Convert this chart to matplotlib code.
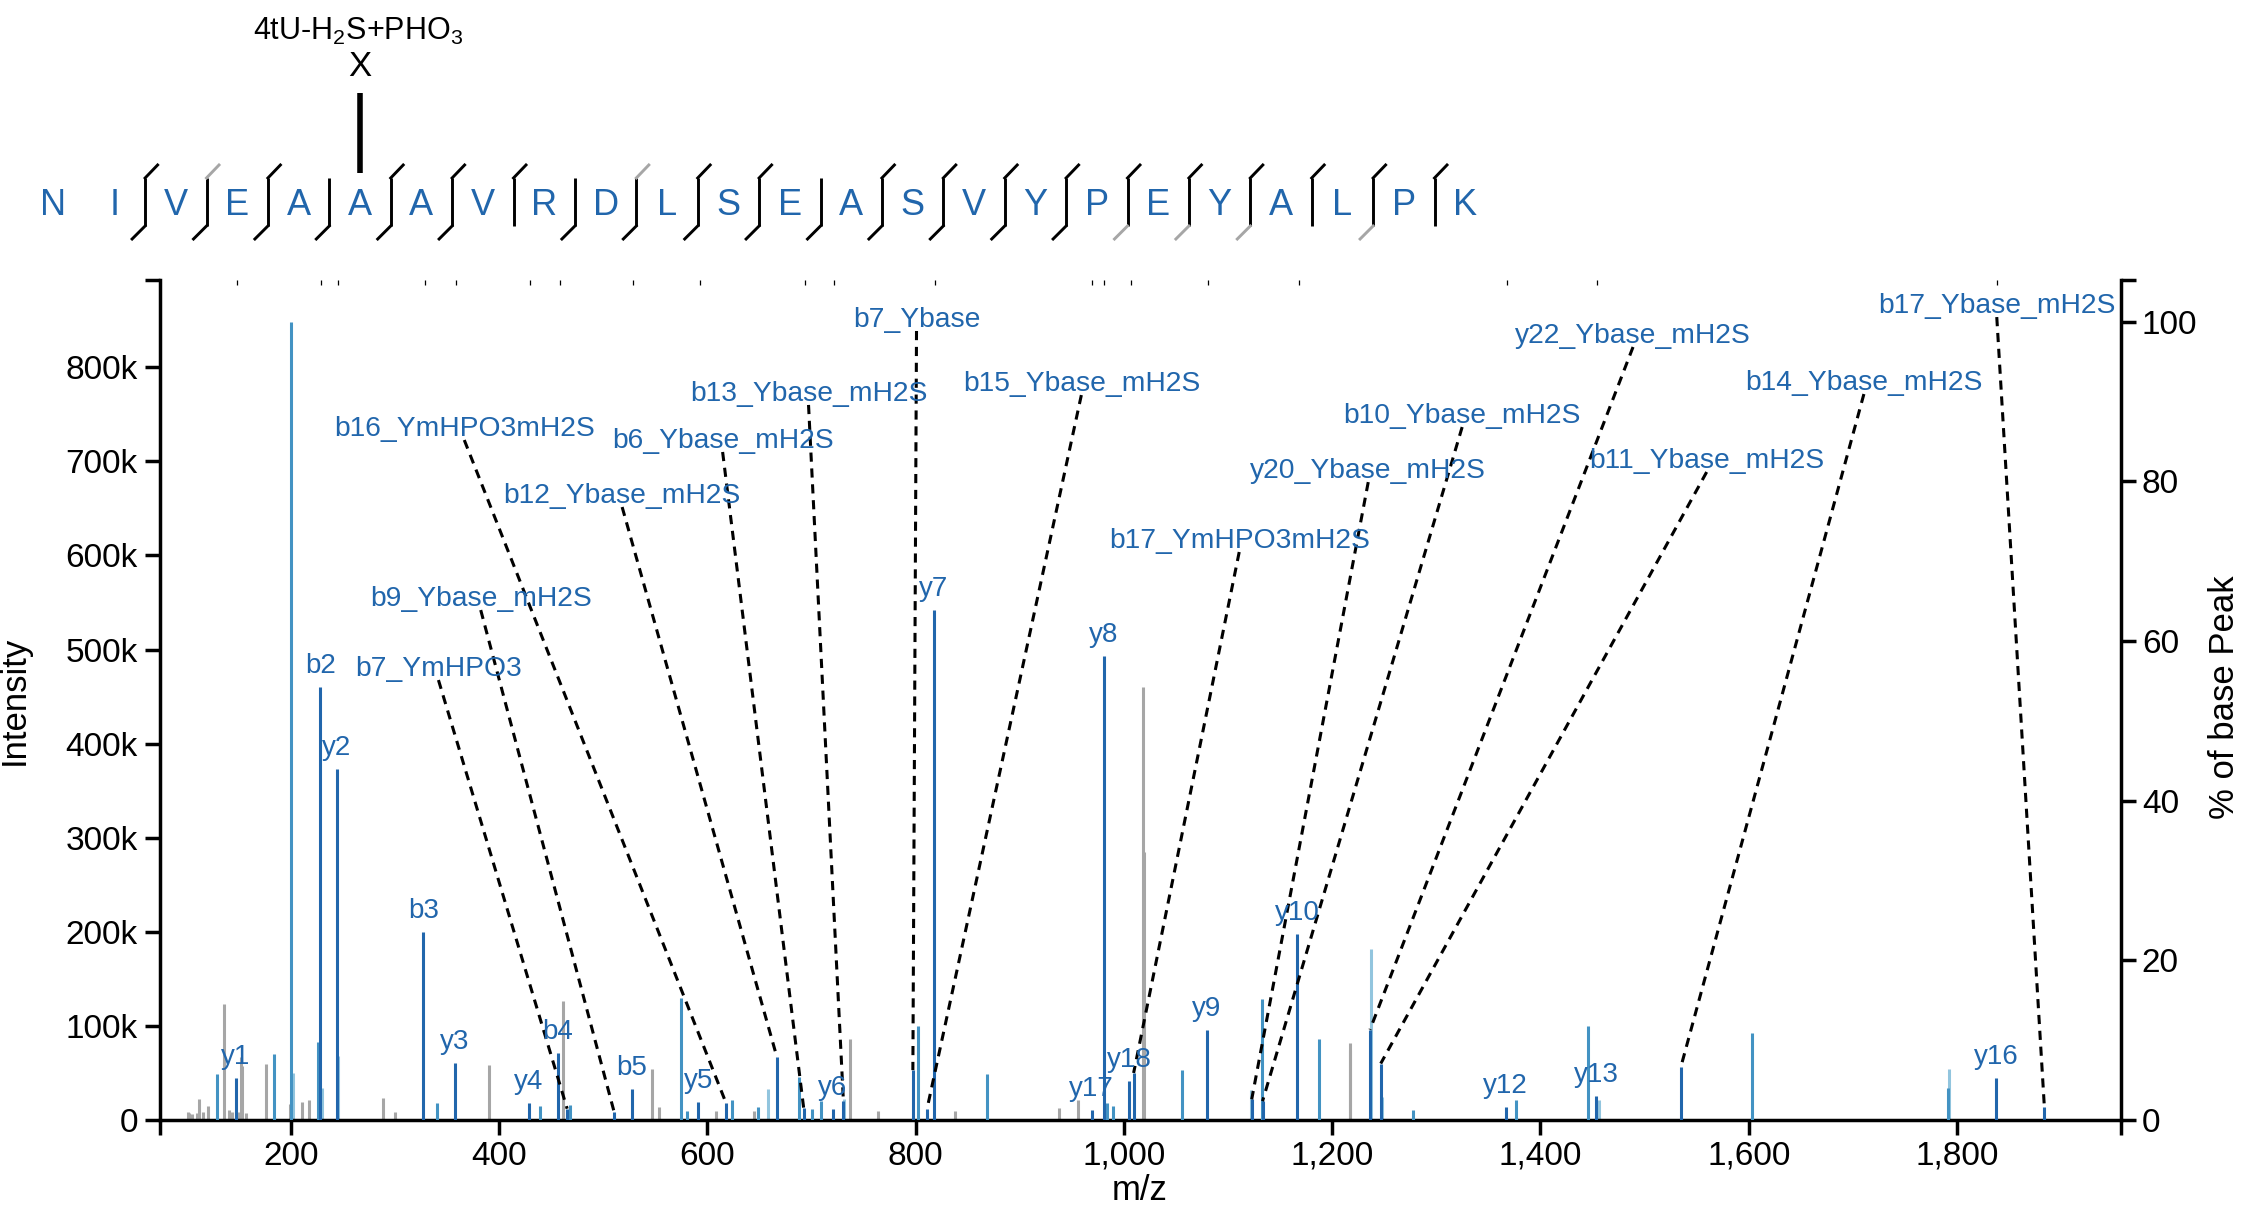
import matplotlib.pyplot as plt
from matplotlib.ticker import FuncFormatter

plt.rcParams['font.family'] = ['Liberation Sans', 'DejaVu Sans']
plt.rcParams['mathtext.fontset'] = 'custom'
plt.rcParams['mathtext.rm'] = 'Liberation Sans'
plt.rcParams['mathtext.it'] = 'Liberation Sans:italic'

# ---- peptide header ----
sequence = "NIVEAAAVRDLSEASVYPEYALPK"
# fragment marks between residues: 0 none, 1 matched, 2 weak (grey)
y_marks = [0, 1, 2, 1, 0, 1, 1, 1, 0, 2, 1, 1, 0, 1, 1, 1, 1, 1, 1, 1, 1, 1, 1]
b_marks = [0, 1, 1, 1, 1, 1, 1, 0, 1, 1, 1, 1, 1, 1, 1, 1, 1, 2, 2, 2, 0, 2, 0]
mod_site = 5
mod_label = "4tU-H$_2$S+PHO$_3$"

# ---- spectrum peaks (m/z, intensity) ----
gray_mz = [100.9, 102.4, 104.7, 109.5, 112.0, 115.8, 120.0, 136.0, 140.8, 143.7,
           150.0, 152.0, 153.5, 156.8, 176.3, 198.8, 210.8, 217.3, 288.3, 300.1,
           390.3, 461.3, 546.4, 553.5, 608.7, 644.3, 737.3, 763.6, 837.7, 937.8,
           956.1, 1018.3, 1019.5, 1216.8, 1217.5]
gray_int = [8500, 7400, 6700, 7400, 22000, 8000, 15000, 123000, 11000, 8000,
            8000, 67000, 57000, 7400, 60000, 17000, 19000, 21000, 23000, 8500,
            58500, 126000, 54600, 13800, 9200, 9600, 86000, 10000, 10000, 12800,
            21000, 460000, 285000, 74000, 82000]

light_mz = [201.6, 229.5, 245.4, 658.4, 731.5, 1121.9, 1237.0, 1247.6, 1455.8, 1792.3]
light_int = [50000, 34000, 68000, 32600, 22000, 31900, 182000, 24000, 21000, 54600]

mid_mz = [129.3, 183.4, 200.0, 225.9, 340.4, 439.3, 468.4, 574.3, 580.8, 624.0,
          648.1, 688.2, 700.4, 709.4, 801.8, 868.5, 983.4, 989.8, 1055.5, 1132.5,
          1187.5, 1277.8, 1376.1, 1445.9, 1603.2, 1791.3]
mid_int = [49000, 70000, 848600, 83000, 18400, 14500, 16000, 130000, 9600, 21000,
           13500, 45700, 11700, 20000, 99600, 49000, 18000, 15000, 52800, 129000,
           85700, 11000, 21000, 100000, 92000, 33700]

ion_names = ["y1", "b2", "y2", "b3", "y3", "y4", "b4", "b5", "y5", "y6", "y7",
             "y17", "y8", "y18", "y9", "y10", "y12", "y13", "y16"]
ion_mz = [147.1, 228.1, 244.2, 327.2, 357.3, 428.3, 456.2, 527.3, 591.4, 720.4,
          817.4, 969.0, 980.5, 1005.0, 1079.6, 1166.6, 1366.7, 1453.7, 1837.9]
ion_int = [45000, 460000, 373000, 200000, 61000, 18400, 71000, 33000, 18800, 11700,
           542000, 11000, 493000, 41500, 95700, 198000, 14000, 25500, 44600]

ann_names = ["b7_YmHPO3", "b9_Ybase_mH2S", "b16_YmHPO3mH2S", "b12_Ybase_mH2S",
             "b6_Ybase_mH2S", "b13_Ybase_mH2S", "b7_Ybase", "b15_Ybase_mH2S",
             "b17_YmHPO3mH2S", "y20_Ybase_mH2S", "b10_Ybase_mH2S", "y22_Ybase_mH2S",
             "b11_Ybase_mH2S", "b14_Ybase_mH2S", "b17_Ybase_mH2S"]
ann_peak_mz = [465.3, 510.3, 618.0, 666.7, 692.4, 730.6, 797.3, 810.8,
               1009.3, 1122.7, 1133.1, 1236.3, 1246.6, 1534.9, 1883.9]
ann_peak_int = [12000, 9000, 17700, 67000, 13000, 20000, 53000, 11300,
                50000, 22000, 20000, 96000, 60000, 56700, 14000]
ann_text_mz = [341.7, 382.3, 366.5, 518.1, 614.6, 697.1, 800.8, 959.1,
               1110.7, 1234.6, 1324.8, 1488.9, 1559.6, 1710.6, 1838.2]
ann_text_int = [467600, 542000, 722700, 651500, 710000, 760000, 838600, 770500,
                603700, 678000, 736500, 821600, 688700, 771600, 853400]

# small marks along the top: positions of matched backbone ions
top_marks = [148.6, 228.9, 245.6, 329.0, 358.8, 430.0, 458.0, 529.0, 592.6, 693.5,
             721.3, 818.5, 969.7, 981.3, 1006.5, 1080.8, 1167.9, 1368.0, 1454.6, 1838.3]

x_limits = (74.3, 1957.5)
y_top = 892800

dark = '#2166ac'
mid = '#4393c3'
light = '#92c5de'
grey = '#a6a6a6'

W, H = 2241, 1210
fig = plt.figure(figsize=(W / 100, H / 100), dpi=100)

# header drawn in pixel coordinates
hdr = fig.add_axes([0, 0, 1, 1], zorder=-1)
hdr.set_xlim(0, W)
hdr.set_ylim(H, 0)
hdr.axis('off')

x0, step = 53, 61.4
for i, aa in enumerate(sequence):
    hdr.text(x0 + step * i, 215, aa, color=dark, fontsize=26, ha='center', va='baseline')
for k in range(len(sequence) - 1):
    if y_marks[k] == 0 and b_marks[k] == 0:
        continue
    xs = x0 + step * (k + 0.5)
    hdr.plot([xs, xs], [178, 226], color='k', lw=2.1, solid_capstyle='butt')
    if y_marks[k]:
        hdr.plot([xs, xs + 12.5], [178, 165], color='k' if y_marks[k] == 1 else grey, lw=2.1)
    if b_marks[k]:
        hdr.plot([xs, xs - 13], [226, 239], color='k' if b_marks[k] == 1 else grey, lw=2.1)

xm = x0 + step * mod_site
hdr.plot([xm, xm], [93, 173], color='k', lw=4, solid_capstyle='butt')
hdr.text(xm, 67, "X", fontsize=25, ha='center', va='center')
hdr.text(xm - 2, 40, mod_label, fontsize=22, ha='center', va='baseline')

# spectrum
ax = fig.add_axes([160 / W, 1 - 1120 / H, (2121 - 160) / W, (1120 - 280) / H])
ax.vlines(gray_mz, 0, gray_int, colors=grey, lw=2.2, zorder=2)
ax.vlines(light_mz, 0, light_int, colors=light, lw=2.2, zorder=2)
ax.vlines(mid_mz, 0, mid_int, colors=mid, lw=2.2, zorder=3)
ax.vlines(ion_mz, 0, ion_int, colors=dark, lw=2.2, zorder=4)
ax.vlines(ann_peak_mz, 0, ann_peak_int, colors=dark, lw=2.2, zorder=4)

for name, mz, inten in zip(ion_names, ion_mz, ion_int):
    ax.annotate(name, (mz, inten), xytext=(0, 10), textcoords='offset points',
                ha='center', va='baseline', color=dark, fontsize=20, zorder=6)

for name, tx, ty, px, py in zip(ann_names, ann_text_mz, ann_text_int, ann_peak_mz, ann_peak_int):
    ax.plot([tx, px], [ty, py], color='k', lw=2.2, ls=(0, (3.0, 2.2)), zorder=5)
    ax.text(tx, ty + 4000, name, color=dark, fontsize=20.3, ha='center', va='baseline', zorder=6)

ax.vlines(top_marks, 0.994, 1.0, transform=ax.get_xaxis_transform(), color='k',
          lw=0.9, clip_on=False)

base = max(mid_int)
ax.set_xlim(*x_limits)
ax.set_ylim(0, y_top)
ax.set_xticks(range(200, 1801, 200))
ax.set_xticks(list(x_limits), minor=True)
ax.set_yticks(range(0, 800001, 100000))
ax.set_yticks([y_top], minor=True)
ax.xaxis.set_major_formatter(FuncFormatter(lambda v, p: f'{int(v):,}'))
ax.yaxis.set_major_formatter(FuncFormatter(lambda v, p: f'{int(v / 1000)}k' if v else '0'))
ax.tick_params(which='both', direction='out', length=11, width=2.5, labelsize=24)
ax.tick_params(axis='x', pad=4)
ax.tick_params(axis='y', pad=5)
for s in ['left', 'bottom']:
    ax.spines[s].set_linewidth(2.5)
ax.spines['top'].set_visible(False)
ax.spines['right'].set_visible(False)

ax2 = ax.twinx()
ax2.set_ylim(0, y_top / base * 100)
ax2.set_yticks(range(0, 101, 20))
ax2.set_yticks([y_top / base * 100], minor=True)
ax2.tick_params(which='both', direction='out', length=11, width=2.5, labelsize=24, pad=4)
for s in ['top', 'left', 'bottom']:
    ax2.spines[s].set_visible(False)
ax2.spines['right'].set_linewidth(2.5)

fig.text(14 / W, 1 - 700 / H, "Intensity", rotation=90, fontsize=25, ha='center', va='center')
fig.text(2225 / W, 1 - 697 / H, "% of base Peak", rotation=90, fontsize=25, ha='center', va='center')
fig.text(1140 / W, 1 - 1190 / H, "m/z", fontsize=25, ha='center', va='center')

fig.savefig("out.png", dpi=100)
